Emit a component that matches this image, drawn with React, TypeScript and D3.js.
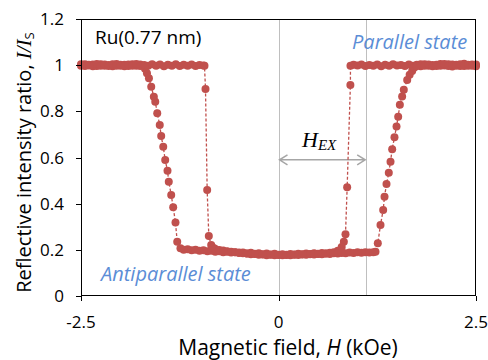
import React, { useEffect, useRef } from "react";
import * as d3 from "d3";

// sweep from +2.5 kOe down to -2.5 kOe
const downTop: [number, number][] = [
  [2.5, 0.995], [2.45, 1.003], [2.4, 0.998], [2.35, 1.006], [2.3, 0.996], [2.25, 1.002], [2.2, 0.994], [2.15, 1.004],
  [2.1, 0.999], [2.05, 1.005], [2.0, 0.996], [1.95, 1.001], [1.9, 0.997], [1.85, 1.004], [1.8, 0.995], [1.75, 1.002],
  [1.7, 0.998], [1.65, 1.003], [1.6, 0.996], [1.55, 1.001], [1.5, 0.999], [1.45, 1.004], [1.4, 0.997], [1.35, 1.002],
  [1.3, 0.995], [1.25, 1.003], [1.2, 0.998], [1.15, 1.001], [1.1, 0.996], [1.05, 1.003], [1.0, 0.999], [0.95, 1.002],
];
const downDrop: [number, number][] = [
  [0.911, 0.998], [0.91, 0.914], [0.869, 0.471], [0.848, 0.267], [0.827, 0.235], [0.8, 0.212],
];
const downBottom: [number, number][] = [
  [0.75, 0.196], [0.7, 0.19], [0.65, 0.187], [0.6, 0.184], [0.55, 0.186], [0.5, 0.182], [0.45, 0.185], [0.4, 0.181],
  [0.35, 0.184], [0.3, 0.18], [0.25, 0.183], [0.2, 0.179], [0.15, 0.182], [0.1, 0.178], [0.05, 0.181], [0.0, 0.179],
  [-0.05, 0.183], [-0.1, 0.18], [-0.15, 0.184], [-0.2, 0.181], [-0.25, 0.185], [-0.3, 0.183], [-0.35, 0.187], [-0.4, 0.184],
  [-0.45, 0.188], [-0.5, 0.186], [-0.55, 0.19], [-0.6, 0.188], [-0.65, 0.192], [-0.7, 0.19], [-0.75, 0.194], [-0.8, 0.192],
  [-0.85, 0.196], [-0.9, 0.194], [-0.95, 0.198], [-1.0, 0.196], [-1.05, 0.2], [-1.1, 0.198], [-1.15, 0.202], [-1.2, 0.2],
];
const downRise: [number, number][] = [
  [-1.241, 0.207], [-1.282, 0.235], [-1.304, 0.318], [-1.333, 0.384], [-1.358, 0.438], [-1.389, 0.495], [-1.405, 0.543],
  [-1.434, 0.589], [-1.459, 0.647], [-1.485, 0.693], [-1.503, 0.741], [-1.535, 0.792], [-1.56, 0.842], [-1.578, 0.863],
  [-1.611, 0.907], [-1.64, 0.943], [-1.665, 0.965], [-1.69, 0.985],
];
const downEnd: [number, number][] = [
  [-1.75, 1.003], [-1.8, 0.997], [-1.85, 1.004], [-1.9, 0.996], [-1.95, 1.002], [-2.0, 0.998], [-2.05, 1.005], [-2.1, 0.995],
  [-2.15, 1.001], [-2.2, 0.997], [-2.25, 1.004], [-2.3, 0.996], [-2.35, 1.003], [-2.4, 0.999], [-2.45, 1.004], [-2.5, 0.997],
];

// sweep from -2.5 kOe up to +2.5 kOe
const upTop: [number, number][] = [
  [-2.5, 1.004], [-2.45, 0.996], [-2.4, 1.002], [-2.35, 0.995], [-2.3, 1.005], [-2.25, 0.998], [-2.2, 1.003], [-2.15, 0.996],
  [-2.1, 1.004], [-2.05, 0.997], [-2.0, 1.002], [-1.95, 0.995], [-1.9, 1.003], [-1.85, 0.998], [-1.8, 1.005], [-1.75, 0.996],
  [-1.7, 1.001], [-1.65, 0.997], [-1.6, 1.004], [-1.55, 0.998], [-1.5, 1.003], [-1.45, 0.995], [-1.4, 1.002], [-1.35, 0.997],
  [-1.3, 1.004], [-1.25, 0.996], [-1.2, 1.002], [-1.15, 0.998], [-1.1, 1.003], [-1.05, 0.996], [-1.0, 1.001], [-0.95, 0.999],
];
const upDrop: [number, number][] = [
  [-0.937, 0.998], [-0.924, 0.897], [-0.903, 0.459], [-0.882, 0.26], [-0.852, 0.221], [-0.82, 0.208],
];
const upBottom: [number, number][] = [
  [-0.8, 0.204], [-0.75, 0.199], [-0.7, 0.197], [-0.65, 0.194], [-0.6, 0.192], [-0.55, 0.189], [-0.5, 0.188], [-0.45, 0.185],
  [-0.4, 0.184], [-0.35, 0.181], [-0.3, 0.182], [-0.25, 0.179], [-0.2, 0.18], [-0.15, 0.177], [-0.1, 0.179], [-0.05, 0.176],
  [0.0, 0.178], [0.05, 0.176], [0.1, 0.179], [0.15, 0.177], [0.2, 0.18], [0.25, 0.178], [0.3, 0.181], [0.35, 0.179],
  [0.4, 0.182], [0.45, 0.18], [0.5, 0.183], [0.55, 0.181], [0.6, 0.184], [0.65, 0.182], [0.7, 0.185], [0.75, 0.184],
  [0.8, 0.186], [0.85, 0.185], [0.9, 0.188], [0.95, 0.186], [1.0, 0.189], [1.05, 0.187], [1.1, 0.19], [1.15, 0.188],
  [1.2, 0.19],
];
const upRise: [number, number][] = [
  [1.228, 0.192], [1.257, 0.228], [1.291, 0.308], [1.325, 0.373], [1.342, 0.43], [1.367, 0.485], [1.396, 0.534],
  [1.418, 0.582], [1.439, 0.636], [1.468, 0.688], [1.494, 0.734], [1.515, 0.777], [1.536, 0.828], [1.565, 0.864],
  [1.586, 0.893], [1.629, 0.936], [1.66, 0.958], [1.692, 0.975], [1.72, 0.99],
];
const upEnd: [number, number][] = [
  [1.75, 0.996], [1.8, 1.004], [1.85, 0.997], [1.9, 1.003], [1.95, 0.995], [2.0, 1.002], [2.05, 0.998], [2.1, 1.005],
  [2.15, 0.996], [2.2, 1.003], [2.25, 0.997], [2.3, 1.004], [2.35, 0.996], [2.4, 1.002], [2.45, 0.998], [2.5, 1.003],
];

const sweepDown = [...downTop, ...downDrop, ...downBottom, ...downRise, ...downEnd];
const sweepUp = [...upTop, ...upDrop, ...upBottom, ...upRise, ...upEnd];

const xTicks = [-2.5, 0, 2.5];
const xTickLabels = ["-2.5", "0", "2.5"];
const yTicks = [0, 0.2, 0.4, 0.6, 0.8, 1, 1.2];
const yTickLabels = ["0", "0.2", "0.4", "0.6", "0.8", "1", "1.2"];
const exchangeField = 1.11;

const RED = "#C0504D";
const BLUE = "#5B8DD6";
const GREY = "#BFBFBF";
const SANS = "'Open Sans', 'Noto Sans', sans-serif";
const SERIF = "'Liberation Serif', 'DejaVu Serif', serif";

const App = () => {
  const ref = useRef<SVGSVGElement>(null);

  useEffect(() => {
    if (!ref.current) return;
    const width = 488;
    const height = 360;
    const margin = { top: 19, right: 12, bottom: 64, left: 81 };

    const svg = d3.select(ref.current);
    svg.selectAll("*").remove();
    svg.attr("width", width).attr("height", height);

    const x = d3.scaleLinear().domain([-2.5, 2.5]).range([margin.left, width - margin.right]);
    const y = d3.scaleLinear().domain([0, 1.2]).range([height - margin.bottom, margin.top]);

    // grey guide lines at 0 and H_EX
    [0, exchangeField].forEach((v) => {
      svg.append("line")
        .attr("x1", Math.round(x(v)) + 0.5).attr("x2", Math.round(x(v)) + 0.5)
        .attr("y1", y(1.2)).attr("y2", y(0))
        .attr("stroke", GREY).attr("stroke-width", 1);
    });

    // double arrow for H_EX
    const ay = y(0.59);
    const ax0 = x(0) + 1;
    const ax1 = x(exchangeField) - 1;
    svg.append("path")
      .attr("d", `M${ax0},${ay}H${ax1}M${ax0 + 8},${ay - 5}L${ax0},${ay}L${ax0 + 8},${ay + 5}M${ax1 - 8},${ay - 5}L${ax1},${ay}L${ax1 - 8},${ay + 5}`)
      .attr("fill", "none").attr("stroke", "#A6A6A6").attr("stroke-width", 1.5);

    const line = d3.line<[number, number]>().x((d) => x(d[0])).y((d) => y(d[1]));

    [sweepDown, sweepUp].forEach((series) => {
      svg.append("path")
        .attr("d", line(series))
        .attr("fill", "none")
        .attr("stroke", RED)
        .attr("stroke-width", 1.3)
        .attr("stroke-dasharray", "3,2");
      svg.append("g").selectAll("circle")
        .data(series)
        .enter().append("circle")
        .attr("cx", (d) => x(d[0]))
        .attr("cy", (d) => y(d[1]))
        .attr("r", 4)
        .attr("fill", RED);
    });

    // plot frame
    svg.append("rect")
      .attr("x", margin.left + 0.5).attr("y", margin.top + 0.5)
      .attr("width", width - margin.left - margin.right - 1)
      .attr("height", height - margin.top - margin.bottom - 1)
      .attr("fill", "none").attr("stroke", "#000").attr("stroke-width", 1);

    // y ticks
    yTicks.forEach((v, i) => {
      const yy = Math.round(y(v)) + 0.5;
      svg.append("line")
        .attr("x1", margin.left - 5).attr("x2", margin.left + 0.5)
        .attr("y1", yy).attr("y2", yy).attr("stroke", "#000");
      svg.append("text")
        .attr("x", margin.left - 17).attr("y", y(v))
        .attr("dy", "0.36em")
        .attr("text-anchor", "end")
        .style("font-family", SANS).style("font-size", "17px")
        .text(yTickLabels[i]);
    });

    // x ticks
    xTicks.forEach((v, i) => {
      const xx = Math.round(x(v)) + 0.5;
      svg.append("line")
        .attr("x1", xx).attr("x2", xx)
        .attr("y1", y(0)).attr("y2", y(0) + 5).attr("stroke", "#000");
      svg.append("text")
        .attr("x", x(v)).attr("y", 328)
        .attr("text-anchor", "middle")
        .style("font-family", SANS).style("font-size", "17px")
        .text(xTickLabels[i]);
    });

    // x title
    const xt = svg.append("text")
      .attr("x", 288).attr("y", 355)
      .attr("text-anchor", "middle")
      .style("font-family", SANS).style("font-size", "21px");
    xt.append("tspan").text("Magnetic field, ");
    xt.append("tspan").style("font-style", "italic").text("H");
    xt.append("tspan").text(" (kOe)");

    // y title
    const yt = svg.append("text")
      .attr("transform", `translate(31,${(margin.top + height - margin.bottom) / 2 + 5}) rotate(-90)`)
      .attr("text-anchor", "middle")
      .style("font-family", SANS).style("font-size", "20px");
    yt.append("tspan").text("Reflective intensity ratio, ");
    yt.append("tspan").style("font-family", SERIF).style("font-style", "italic").style("font-size", "21px").text("I/I");
    yt.append("tspan").style("font-family", SANS).style("font-size", "13px").attr("dy", 3).text("S");

    // annotations
    svg.append("text")
      .attr("x", 95).attr("y", 44)
      .style("font-family", SANS).style("font-size", "19px")
      .text("Ru(0.77 nm)");
    svg.append("text")
      .attr("x", 352).attr("y", 49)
      .style("font-family", SANS).style("font-size", "20px")
      .style("font-style", "italic").attr("fill", BLUE)
      .text("Parallel state");
    svg.append("text")
      .attr("x", 101).attr("y", 281)
      .style("font-family", SANS).style("font-size", "20px")
      .style("font-style", "italic").attr("fill", BLUE)
      .text("Antiparallel state");

    const hx = svg.append("text")
      .attr("x", 302).attr("y", 147)
      .style("font-family", SERIF).style("font-style", "italic").style("font-size", "22px");
    hx.append("tspan").text("H");
    hx.append("tspan").style("font-size", "15px").attr("dy", 3).text("EX");
  }, []);

  return (
    <svg ref={ref} style={{ position: "absolute", left: 0, top: 0 }} />
  );
};

export default App;
